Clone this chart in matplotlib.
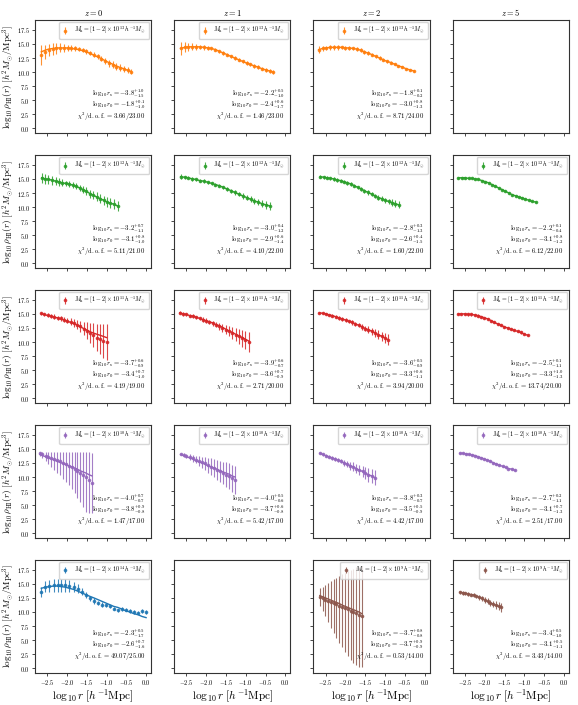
import numpy as np
import matplotlib
matplotlib.use('Agg')
import matplotlib.pyplot as plt
from matplotlib.ticker import FuncFormatter

plt.rcParams['mathtext.fontset'] = 'cm'
plt.rcParams['font.family'] = ['DejaVu Serif']

redshifts = ['0', '1', '2', '5']

# ---- M_h = [1-2] x 10^13 (orange) ----
x_13_z0 = [-2.65, -2.55, -2.46, -2.36, -2.27, -2.17, -2.08, -1.98, -1.89, -1.79, -1.70, -1.60, -1.51,
           -1.41, -1.32, -1.22, -1.13, -1.03, -0.94, -0.84, -0.75, -0.65, -0.56, -0.46, -0.37]
y_13_z0 = [13.0, 13.6, 13.9, 14.1, 14.2, 14.3, 14.3, 14.3, 14.3, 14.2, 14.1, 13.9, 13.7,
           13.4, 13.1, 12.8, 12.4, 12.0, 11.6, 11.3, 11.0, 10.8, 10.6, 10.4, 10.1]
e_13_z0 = [1.8, 1.3, 1.1, 1.0, 0.9, 0.8, 0.7, 0.6, 0.5, 0.4, 0.4, 0.4, 0.4,
           0.4, 0.4, 0.5, 0.5, 0.5, 0.6, 0.6, 0.6, 0.6, 0.5, 0.5, 0.4]
fit_13_z0 = [13.6, 13.9, 14.1, 14.2, 14.3, 14.3, 14.3, 14.3, 14.2, 14.1, 14.0, 13.8, 13.6,
             13.3, 13.0, 12.7, 12.4, 12.0, 11.7, 11.4, 11.1, 10.8, 10.6, 10.3, 10.1]

x_13_z1 = [-2.65, -2.55, -2.45, -2.36, -2.26, -2.16, -2.06, -1.96, -1.87, -1.77, -1.67, -1.57, -1.47,
           -1.38, -1.28, -1.18, -1.08, -0.98, -0.89, -0.79, -0.69, -0.59, -0.49, -0.40, -0.30]
y_13_z1 = [14.2, 14.4, 14.5, 14.5, 14.5, 14.5, 14.4, 14.3, 14.2, 14.0, 13.7, 13.4, 13.1,
           12.8, 12.5, 12.2, 11.9, 11.6, 11.4, 11.1, 10.9, 10.6, 10.4, 10.2, 10.0]
e_13_z1 = [1.2, 0.9, 0.7, 0.6, 0.5, 0.4, 0.4, 0.3, 0.3, 0.3, 0.3, 0.3, 0.3,
           0.3, 0.3, 0.3, 0.3, 0.3, 0.3, 0.3, 0.3, 0.3, 0.3, 0.3, 0.3]

x_13_z2 = [-2.68, -2.58, -2.49, -2.39, -2.30, -2.20, -2.10, -2.01, -1.91, -1.81, -1.72, -1.62, -1.53,
           -1.43, -1.33, -1.24, -1.14, -1.05, -0.95, -0.85, -0.76, -0.66, -0.56, -0.47, -0.37, -0.27]
y_13_z2 = [14.0, 14.2, 14.3, 14.4, 14.4, 14.4, 14.4, 14.3, 14.3, 14.2, 14.1, 13.9, 13.6,
           13.4, 13.1, 12.8, 12.5, 12.2, 11.9, 11.7, 11.4, 11.1, 10.9, 10.6, 10.4, 10.2]
e_13_z2 = [0.6, 0.5, 0.4, 0.4, 0.4, 0.4, 0.3, 0.3, 0.3, 0.3, 0.3, 0.3, 0.3,
           0.3, 0.3, 0.3, 0.3, 0.3, 0.2, 0.2, 0.2, 0.2, 0.2, 0.2, 0.2, 0.2]

# ---- M_h = [1-2] x 10^12 (green) ----
x_12_z0 = [-2.64, -2.55, -2.47, -2.38, -2.29, -2.20, -2.12, -2.03, -1.94, -1.86, -1.77, -1.68,
           -1.59, -1.51, -1.42, -1.33, -1.25, -1.16, -1.07, -0.99, -0.90, -0.81, -0.72]
y_12_z0 = [15.2, 15.0, 14.9, 14.8, 14.6, 14.5, 14.3, 14.2, 14.1, 13.9, 13.7, 13.4,
           13.1, 12.8, 12.4, 12.1, 11.8, 11.5, 11.2, 10.9, 10.7, 10.5, 10.2]
e_12_z0 = [0.9, 0.9, 0.8, 0.8, 0.7, 0.7, 0.6, 0.5, 0.5, 0.5, 0.5, 0.6,
           0.6, 0.7, 0.7, 0.7, 0.8, 0.8, 0.8, 0.9, 0.9, 0.9, 0.9]

x_12_z1 = [-2.65, -2.55, -2.45, -2.35, -2.26, -2.16, -2.06, -1.96, -1.86, -1.77, -1.67, -1.57,
           -1.47, -1.37, -1.28, -1.18, -1.08, -0.98, -0.88, -0.79, -0.69, -0.59, -0.49, -0.39]
y_12_z1 = [15.4, 15.3, 15.2, 15.0, 14.9, 14.7, 14.6, 14.4, 14.2, 14.0, 13.8, 13.5,
           13.2, 12.9, 12.6, 12.3, 12.0, 11.7, 11.4, 11.1, 10.9, 10.6, 10.4, 10.2]
e_12_z1 = [0.4, 0.3, 0.3, 0.3, 0.3, 0.3, 0.3, 0.3, 0.3, 0.3, 0.3, 0.3,
           0.4, 0.4, 0.4, 0.4, 0.5, 0.5, 0.5, 0.6, 0.6, 0.6, 0.7, 0.7]

x_12_z2 = [-2.64, -2.55, -2.47, -2.38, -2.30, -2.21, -2.12, -2.04, -1.95, -1.86, -1.78, -1.69,
           -1.60, -1.52, -1.43, -1.34, -1.26, -1.17, -1.08, -1.00, -0.91, -0.82, -0.74, -0.65]
y_12_z2 = [15.4, 15.3, 15.2, 15.1, 15.0, 14.8, 14.7, 14.5, 14.3, 14.1, 13.8, 13.5,
           13.2, 12.9, 12.6, 12.3, 12.0, 11.7, 11.5, 11.2, 11.0, 10.8, 10.6, 10.4]
e_12_z2 = [0.3, 0.3, 0.3, 0.3, 0.3, 0.3, 0.3, 0.3, 0.3, 0.3, 0.3, 0.3,
           0.4, 0.4, 0.4, 0.4, 0.4, 0.5, 0.5, 0.5, 0.5, 0.6, 0.6, 0.6]

x_12_z5 = [-2.67, -2.58, -2.50, -2.41, -2.33, -2.24, -2.16, -2.07, -1.99, -1.90, -1.82, -1.73,
           -1.65, -1.56, -1.48, -1.39, -1.31, -1.22, -1.14, -1.05, -0.97, -0.88, -0.80, -0.71]
y_12_z5 = [15.2, 15.2, 15.2, 15.1, 15.1, 15.0, 14.9, 14.7, 14.5, 14.3, 14.0, 13.7,
           13.4, 13.1, 12.8, 12.5, 12.2, 12.0, 11.8, 11.6, 11.4, 11.2, 11.0, 10.9]
e_12_z5 = [0.15] * 24

# ---- M_h = [1-2] x 10^11 (red) ----
x_11_z0 = [-2.65, -2.57, -2.49, -2.40, -2.32, -2.24, -2.16, -2.07, -1.99, -1.91, -1.83,
           -1.74, -1.66, -1.58, -1.49, -1.41, -1.33, -1.25, -1.16, -1.08, -1.00]
y_11_z0 = [15.1, 14.9, 14.8, 14.6, 14.5, 14.3, 14.2, 14.0, 13.8, 13.6, 13.4,
           13.1, 12.8, 12.4, 12.0, 11.6, 11.2, 10.8, 10.5, 10.2, 10.0]
e_11_z0 = [0.3, 0.3, 0.3, 0.3, 0.4, 0.4, 0.4, 0.5, 0.5, 0.6, 0.7,
           0.8, 1.0, 1.2, 1.5, 1.8, 2.1, 2.4, 2.7, 3.0, 3.2]
fit_11_z0 = [15.0, 14.9, 14.7, 14.6, 14.4, 14.3, 14.1, 13.9, 13.7, 13.5, 13.3,
             13.0, 12.7, 12.4, 12.1, 11.8, 11.6, 11.4, 11.2, 11.0, 10.8]

x_11_z1 = [-2.67, -2.59, -2.50, -2.42, -2.34, -2.25, -2.17, -2.09, -2.01, -1.92, -1.84,
           -1.76, -1.67, -1.59, -1.51, -1.43, -1.34, -1.26, -1.18, -1.09, -1.01, -0.93]
y_11_z1 = [15.2, 15.0, 14.9, 14.7, 14.6, 14.4, 14.2, 14.0, 13.8, 13.6, 13.3,
           13.1, 12.8, 12.5, 12.2, 11.9, 11.6, 11.3, 11.0, 10.7, 10.4, 10.0]
e_11_z1 = [0.3, 0.3, 0.3, 0.3, 0.3, 0.3, 0.3, 0.4, 0.4, 0.4, 0.5,
           0.5, 0.6, 0.7, 0.8, 0.9, 1.0, 1.2, 1.3, 1.5, 1.6, 1.8]
fit_11_z1 = [15.2, 15.0, 14.9, 14.7, 14.6, 14.4, 14.2, 14.0, 13.8, 13.6, 13.4,
             13.1, 12.9, 12.6, 12.3, 12.0, 11.7, 11.4, 11.1, 10.8, 10.5, 10.2]

x_11_z2 = [-2.66, -2.58, -2.50, -2.41, -2.33, -2.25, -2.17, -2.08, -2.00, -1.92, -1.83,
           -1.75, -1.67, -1.58, -1.50, -1.42, -1.33, -1.25, -1.17, -1.08, -1.00, -0.92]
y_11_z2 = [15.2, 15.1, 15.0, 14.8, 14.7, 14.5, 14.3, 14.1, 13.9, 13.7, 13.5,
           13.2, 13.0, 12.7, 12.4, 12.2, 11.9, 11.6, 11.3, 11.0, 10.7, 10.4]
e_11_z2 = [0.2, 0.2, 0.2, 0.2, 0.2, 0.3, 0.3, 0.3, 0.3, 0.3, 0.4,
           0.4, 0.4, 0.5, 0.5, 0.6, 0.6, 0.7, 0.8, 0.8, 0.9, 1.0]

x_11_z5 = [-2.67, -2.59, -2.50, -2.42, -2.34, -2.25, -2.17, -2.09, -2.01, -1.92, -1.84,
           -1.76, -1.67, -1.59, -1.51, -1.42, -1.34, -1.26, -1.17, -1.09, -1.00, -0.91]
y_11_z5 = [15.0, 15.0, 15.0, 14.9, 14.9, 14.8, 14.7, 14.5, 14.3, 14.1, 13.8,
           13.5, 13.2, 13.0, 12.7, 12.5, 12.3, 12.1, 11.9, 11.7, 11.4, 11.2]
e_11_z5 = [0.2] * 22

# ---- M_h = [1-2] x 10^10 (purple) ----
x_10_z0 = [-2.69, -2.62, -2.54, -2.47, -2.40, -2.32, -2.25, -2.18, -2.10, -2.03, -1.96,
           -1.88, -1.81, -1.74, -1.66, -1.59, -1.52, -1.44, -1.37]
y_10_z0 = [14.2, 14.0, 13.8, 13.6, 13.4, 13.2, 13.0, 12.8, 12.5, 12.3, 12.0,
           11.7, 11.4, 11.1, 10.8, 10.4, 10.0, 9.5, 9.0]
elo_10_z0 = [0.5, 0.7, 1.0, 1.3, 1.6, 1.9, 2.2, 2.5, 2.8, 3.1, 3.5,
             3.9, 4.3, 4.8, 5.3, 5.8, 6.2, 5.8, 5.3]
ehi_10_z0 = [0.3, 0.5, 0.7, 0.9, 1.1, 1.3, 1.5, 1.7, 1.9, 2.1, 2.4,
             2.7, 3.0, 3.3, 3.6, 4.0, 4.5, 5.0, 5.3]
fit_10_z0 = [14.0, 13.8, 13.6, 13.4, 13.2, 13.0, 12.8, 12.6, 12.4, 12.2, 12.0,
             11.8, 11.6, 11.4, 11.1, 10.9, 10.7, 10.4, 10.2]

x_10_z1 = [-2.65, -2.57, -2.50, -2.42, -2.34, -2.27, -2.19, -2.11, -2.04, -1.96, -1.88,
           -1.81, -1.73, -1.65, -1.58, -1.50, -1.42, -1.35, -1.27]
y_10_z1 = [14.1, 13.9, 13.7, 13.5, 13.3, 13.1, 12.9, 12.6, 12.4, 12.1, 11.8,
           11.6, 11.3, 11.0, 10.7, 10.4, 10.1, 9.8, 9.4]
e_10_z1 = [0.2, 0.3, 0.4, 0.5, 0.6, 0.7, 0.9, 1.0, 1.2, 1.3, 1.5,
           1.6, 1.8, 1.9, 2.0, 2.2, 2.3, 2.4, 2.5]
fit_10_z1 = [14.0, 13.8, 13.6, 13.4, 13.2, 12.9, 12.7, 12.5, 12.3, 12.0, 11.8,
             11.6, 11.4, 11.1, 10.9, 10.7, 10.5, 10.2, 10.0]

x_10_z2 = [-2.65, -2.57, -2.50, -2.42, -2.34, -2.27, -2.19, -2.11, -2.04, -1.96, -1.88,
           -1.80, -1.73, -1.65, -1.57, -1.50, -1.42, -1.34, -1.26]
y_10_z2 = [14.2, 14.0, 13.8, 13.6, 13.4, 13.2, 13.0, 12.8, 12.5, 12.3, 12.0,
           11.8, 11.5, 11.2, 11.0, 10.7, 10.4, 10.2, 9.9]
e_10_z2 = [0.2, 0.2, 0.2, 0.3, 0.3, 0.3, 0.4, 0.4, 0.5, 0.6, 0.7,
           0.8, 0.8, 0.9, 1.0, 1.1, 1.2, 1.3, 1.4]

x_10_z5 = [-2.63, -2.55, -2.48, -2.40, -2.32, -2.24, -2.17, -2.09, -2.01, -1.94, -1.86,
           -1.78, -1.71, -1.63, -1.55, -1.47, -1.40, -1.32, -1.24]
y_10_z5 = [14.2, 14.2, 14.1, 14.0, 13.9, 13.8, 13.6, 13.4, 13.2, 13.0, 12.8,
           12.5, 12.3, 12.1, 11.9, 11.7, 11.5, 11.4, 11.2]
e_10_z5 = [0.15] * 19

# ---- M_h = [1-2] x 10^14 (blue) ----
x_14_z0 = [-2.65, -2.55, -2.45, -2.34, -2.24, -2.14, -2.04, -1.94, -1.83, -1.73, -1.63, -1.53, -1.43,
           -1.32, -1.22, -1.12, -1.02, -0.92, -0.82, -0.71, -0.61, -0.51, -0.41, -0.31, -0.20, -0.10, 0.00]
y_14_z0 = [13.5, 14.5, 14.6, 14.7, 14.7, 14.7, 14.7, 14.6, 14.4, 14.1, 13.6, 13.0, 12.4,
           12.0, 11.6, 11.3, 11.2, 11.0, 10.6, 10.3, 10.5, 10.4, 10.2, 10.0, 9.9, 10.2, 10.0]
e_14_z0 = [0.9, 1.0, 1.0, 1.1, 1.1, 1.1, 1.1, 1.0, 0.9, 0.8, 0.6, 0.5, 0.5,
           0.5, 0.4, 0.4, 0.3, 0.3, 0.3, 0.3, 0.3, 0.3, 0.3, 0.3, 0.3, 0.3, 0.3]
fit_14_z0 = [14.2, 14.4, 14.5, 14.6, 14.6, 14.5, 14.4, 14.2, 14.0, 13.7, 13.4, 13.1, 12.8,
             12.5, 12.2, 11.9, 11.6, 11.3, 11.0, 10.8, 10.5, 10.2, 10.0, 9.7, 9.5, 9.2, 9.0]

# ---- M_h = [1-2] x 10^9 (brown) ----
x_9_z2 = [-2.65, -2.58, -2.51, -2.44, -2.37, -2.30, -2.23, -2.16, -2.08, -2.01, -1.94,
          -1.87, -1.80, -1.73, -1.66, -1.59]
y_9_z2 = [12.6, 12.4, 12.2, 12.0, 11.8, 11.6, 11.4, 11.1, 10.9, 10.7, 10.5,
          10.2, 10.0, 9.8, 9.5, 9.2]
elo_9_z2 = [1.5, 2.2, 3.0, 3.8, 4.6, 5.3, 6.0, 6.6, 7.2, 7.8, 8.3,
            8.7, 9.0, 9.2, 9.2, 9.0]
ehi_9_z2 = [1.6, 2.1, 2.6, 3.1, 3.7, 4.2, 4.7, 5.3, 5.8, 6.3, 6.8,
            7.3, 7.7, 8.1, 8.5, 9.0]
fit_9_z2 = [12.9, 12.7, 12.5, 12.3, 12.1, 11.9, 11.7, 11.5, 11.2, 11.0, 10.8,
            10.6, 10.4, 10.2, 10.0, 9.7]

x_9_z5 = [-2.63, -2.56, -2.49, -2.42, -2.35, -2.28, -2.21, -2.14, -2.07, -2.00, -1.93,
          -1.86, -1.79, -1.72, -1.65, -1.58]
y_9_z5 = [13.5, 13.4, 13.3, 13.2, 13.1, 13.0, 12.8, 12.6, 12.4, 12.1, 11.9,
          11.6, 11.4, 11.2, 11.0, 10.8]
e_9_z5 = [0.3, 0.3, 0.3, 0.3, 0.3, 0.3, 0.3, 0.4, 0.4, 0.5, 0.5,
          0.6, 0.6, 0.7, 0.7, 0.8]

# fit results: (rs, rs+, rs-, r0, r0+, r0-, chi2, dof)
res_13 = [('-3.8', '1.0', '1.5', '-1.8', '0.1', '1.0', '3.66', '23.00'),
          ('-2.2', '0.5', '1.0', '-2.4', '0.6', '1.7', '1.46', '23.00'),
          ('-1.8', '0.1', '0.2', '-3.0', '0.8', '1.3', '8.71', '24.00')]
res_12 = [('-3.2', '0.7', '1.1', '-3.1', '0.8', '1.0', '5.11', '21.00'),
          ('-3.0', '0.4', '1.2', '-2.9', '0.6', '1.4', '4.10', '22.00'),
          ('-2.8', '0.3', '1.3', '-2.6', '0.4', '1.5', '1.60', '22.00'),
          ('-2.2', '0.1', '0.4', '-3.1', '0.8', '1.2', '6.12', '22.00')]
res_11 = [('-3.7', '0.6', '0.9', '-3.4', '0.7', '1.0', '4.19', '19.00'),
          ('-3.9', '0.6', '0.7', '-3.6', '0.7', '0.9', '2.71', '20.00'),
          ('-3.6', '0.5', '0.9', '-3.3', '0.6', '1.1', '3.94', '20.00'),
          ('-2.5', '0.1', '1.1', '-3.3', '1.0', '1.3', '13.74', '20.00')]
res_10 = [('-4.0', '0.7', '0.7', '-3.8', '0.9', '0.8', '1.47', '17.00'),
          ('-4.0', '0.5', '0.6', '-3.7', '0.6', '0.8', '5.42', '17.00'),
          ('-3.8', '0.3', '0.7', '-3.5', '0.5', '0.9', '4.42', '17.00'),
          ('-2.7', '0.2', '1.1', '-3.1', '0.7', '1.3', '2.51', '17.00')]
res_14 = ('-2.3', '0.5', '1.7', '-2.6', '0.7', '1.6', '49.07', '25.00')
res_9 = [('-3.7', '0.8', '0.8', '-3.7', '0.9', '0.9', '0.53', '14.00'),
         ('-3.4', '0.5', '1.0', '-3.1', '0.5', '1.1', '3.43', '14.00')]

C_OR, C_GR, C_RD, C_PU, C_BL, C_BR = '#ff7f0e', '#2ca02c', '#d62728', '#9467bd', '#1f77b4', '#8c564b'

# (row, col, x, y, err, fit, colour, mass exponent, results)
panels = [
    (0, 0, x_13_z0, y_13_z0, e_13_z0, fit_13_z0, C_OR, '13', res_13[0]),
    (0, 1, x_13_z1, y_13_z1, e_13_z1, y_13_z1, C_OR, '13', res_13[1]),
    (0, 2, x_13_z2, y_13_z2, e_13_z2, y_13_z2, C_OR, '13', res_13[2]),
    (1, 0, x_12_z0, y_12_z0, e_12_z0, y_12_z0, C_GR, '12', res_12[0]),
    (1, 1, x_12_z1, y_12_z1, e_12_z1, y_12_z1, C_GR, '12', res_12[1]),
    (1, 2, x_12_z2, y_12_z2, e_12_z2, y_12_z2, C_GR, '12', res_12[2]),
    (1, 3, x_12_z5, y_12_z5, e_12_z5, y_12_z5, C_GR, '12', res_12[3]),
    (2, 0, x_11_z0, y_11_z0, e_11_z0, fit_11_z0, C_RD, '11', res_11[0]),
    (2, 1, x_11_z1, y_11_z1, e_11_z1, fit_11_z1, C_RD, '11', res_11[1]),
    (2, 2, x_11_z2, y_11_z2, e_11_z2, y_11_z2, C_RD, '11', res_11[2]),
    (2, 3, x_11_z5, y_11_z5, e_11_z5, y_11_z5, C_RD, '11', res_11[3]),
    (3, 0, x_10_z0, y_10_z0, [elo_10_z0, ehi_10_z0], fit_10_z0, C_PU, '10', res_10[0]),
    (3, 1, x_10_z1, y_10_z1, e_10_z1, fit_10_z1, C_PU, '10', res_10[1]),
    (3, 2, x_10_z2, y_10_z2, e_10_z2, y_10_z2, C_PU, '10', res_10[2]),
    (3, 3, x_10_z5, y_10_z5, e_10_z5, y_10_z5, C_PU, '10', res_10[3]),
    (4, 0, x_14_z0, y_14_z0, e_14_z0, fit_14_z0, C_BL, '14', res_14),
    (4, 2, x_9_z2, y_9_z2, [elo_9_z2, ehi_9_z2], fit_9_z2, C_BR, '9', res_9[0]),
    (4, 3, x_9_z5, y_9_z5, e_9_z5, y_9_z5, C_BR, '9', res_9[1]),
]

fig = plt.figure(figsize=(5.78, 7.05), dpi=100)
axes = fig.subplots(5, 4, sharex=True, sharey=True)
fig.subplots_adjust(left=0.0605, right=0.9844, top=0.9716, bottom=0.045,
                    wspace=0.198, hspace=0.19)

fmt = FuncFormatter(lambda v, p: r'$%.1f$' % v)
for ax in axes.flat:
    ax.tick_params(labelsize=4.6, length=2.5, width=0.5, pad=1.0)
    for s in ax.spines.values():
        s.set_linewidth(0.8)
        s.set_color('#333333')
ax0 = axes[0, 0]
ax0.set_xlim(-2.81, 0.13)
ax0.set_ylim(-0.88, 19.25)
ax0.set_xticks([-2.5, -2.0, -1.5, -1.0, -0.5, 0.0])
ax0.set_yticks([0.0, 2.5, 5.0, 7.5, 10.0, 12.5, 15.0, 17.5])
ax0.xaxis.set_major_formatter(fmt)
ax0.yaxis.set_major_formatter(fmt)

for j, z in enumerate(redshifts):
    axes[0, j].set_title(r'$z = %s$' % z, fontsize=6, pad=3)
for i in range(5):
    axes[i, 0].set_ylabel(r'$\log_{10}\rho_{\rm HI}(r)\ [h^2 M_{\odot}/{\rm Mpc}^3]$',
                          fontsize=6.6, labelpad=0.5)
for j in range(4):
    axes[4, j].set_xlabel(r'$\log_{10} r\ [h^{-1}{\rm Mpc}]$', fontsize=8.2, labelpad=0.2)

for (r, c, x, y, e, fit, col, mexp, res) in panels:
    ax = axes[r, c]
    ax.plot(x, fit, color=col, lw=1.0, zorder=2)
    ax.errorbar(x, y, yerr=e, fmt='o', ms=1.6, color=col, ecolor=col, elinewidth=0.8,
                capsize=0, alpha=0.85, zorder=3,
                label=r'$M_{\rm h} = [1-2]\times 10^{%s}\,h^{-1}M_{\odot}$' % mexp)
    ax.legend(loc='upper right', fontsize=4.4, handlelength=1.0, borderpad=0.5,
              handletextpad=0.9, borderaxespad=0.35, framealpha=0.8)
    rs, rsp, rsm, r0, r0p, r0m, chi, dof = res
    ax.text(0.95, 0.35, r'$\log_{10} r_{\rm s} = %s^{+%s}_{-%s}$' % (rs, rsp, rsm),
            transform=ax.transAxes, ha='right', va='center', fontsize=4.8)
    ax.text(0.95, 0.25, r'$\log_{10} r_{0} = %s^{+%s}_{-%s}$' % (r0, r0p, r0m),
            transform=ax.transAxes, ha='right', va='center', fontsize=4.8)
    ax.text(0.95, 0.145, r'$\chi^2/{\rm d.o.f.} = %s/%s$' % (chi, dof),
            transform=ax.transAxes, ha='right', va='center', fontsize=4.8)

fig.savefig('out.png', dpi=100)
